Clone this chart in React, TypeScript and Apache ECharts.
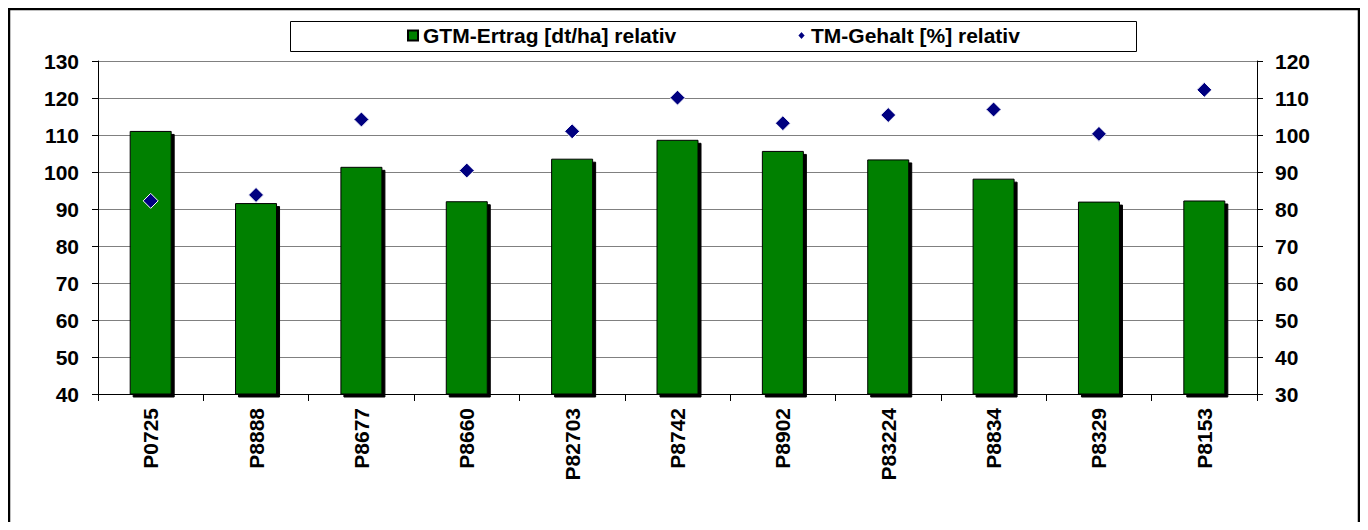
import React, { useEffect, useRef } from "react";
import * as echarts from "echarts";

const categories = ["P0725", "P8888", "P8677", "P8660", "P82703", "P8742", "P8902", "P83224", "P8834", "P8329", "P8153"];
const ertragRelativ = [111.1, 91.6, 101.4, 92.1, 103.6, 108.7, 105.7, 103.4, 98.2, 92.0, 92.3];
const tmGehaltRelativ = [82.2, 83.8, 104.2, 90.4, 101.0, 110.1, 103.2, 105.4, 106.9, 100.3, 112.2];
const seriesNames = ["GTM-Ertrag [dt/ha] relativ", "TM-Gehalt [%] relativ"];

const FONT = "'Liberation Sans', Arial, sans-serif";

export default function App() {
  const ref = useRef<HTMLDivElement>(null);
  useEffect(() => {
    if (!ref.current) return;
    const chart = echarts.init(ref.current, undefined, { renderer: "svg" });
    const labelStyle = { color: "#000", fontFamily: FONT, fontWeight: "bold" as const, fontSize: 21 };
    chart.setOption({
      animation: false,
      backgroundColor: "#fff",
      grid: { left: 90, right: 103, top: 53, bottom: 128, containLabel: false },
      graphic: [
        { type: "rect", shape: { x: 1, y: 1, width: 1350, height: 700 }, style: { fill: "none", stroke: "#000", lineWidth: 2.5 }, silent: true, z: 100 },
        { type: "rect", shape: { x: 282.5, y: 13.5, width: 846, height: 30 }, style: { fill: "none", stroke: "#000", lineWidth: 1 }, silent: true, z: 100 },
      ],
      legend: [
        {
          data: [{ name: seriesNames[0], icon: "rect" }],
          left: 399, top: 17, padding: 0, itemWidth: 10, itemHeight: 10, itemGap: 0,
          textStyle: { ...labelStyle },
        },
        {
          data: [{ name: seriesNames[1], icon: "diamond" }],
          left: 788, top: 17, padding: 0, itemWidth: 9, itemHeight: 10, itemGap: 0,
          textStyle: { ...labelStyle },
        },
      ],
      xAxis: {
        type: "category",
        data: categories,
        axisLine: { lineStyle: { color: "#000", width: 1 } },
        axisTick: { show: true, alignWithLabel: false, length: 7, lineStyle: { color: "#000" } },
        axisLabel: { ...labelStyle, rotate: 90, margin: 14 },
      },
      yAxis: [
        {
          type: "value", min: 40, max: 130, interval: 10, position: "left",
          axisLine: { show: true, lineStyle: { color: "#000" } },
          axisTick: { show: true, length: 6, lineStyle: { color: "#000" } },
          axisLabel: { ...labelStyle, margin: 19 },
          splitLine: { show: true, lineStyle: { color: "#808080", width: 1 } },
        },
        {
          type: "value", min: 30, max: 120, interval: 10, position: "right",
          axisLine: { show: true, lineStyle: { color: "#000" } },
          axisTick: { show: true, length: 6, lineStyle: { color: "#000" } },
          axisLabel: { ...labelStyle, margin: 18 },
          splitLine: { show: false },
        },
      ],
      series: [
        {
          name: seriesNames[0],
          type: "bar",
          yAxisIndex: 0,
          data: ertragRelativ,
          barWidth: 42,
          itemStyle: {
            color: "#008000", borderColor: "#000", borderWidth: 1, opacity: 1,
            shadowColor: "#000", shadowOffsetX: 3, shadowOffsetY: 3, shadowBlur: 0,
          },
        },
        {
          name: seriesNames[1],
          type: "scatter",
          yAxisIndex: 1,
          data: tmGehaltRelativ,
          symbol: "diamond",
          symbolSize: 15,
          itemStyle: { color: "#000080", borderColor: "#fff", borderWidth: 1, opacity: 1 },
          z: 5,
        },
      ],
    });
    return () => chart.dispose();
  }, []);
  return <div ref={ref} style={{ width: 1352, height: 514 }} />;
}
